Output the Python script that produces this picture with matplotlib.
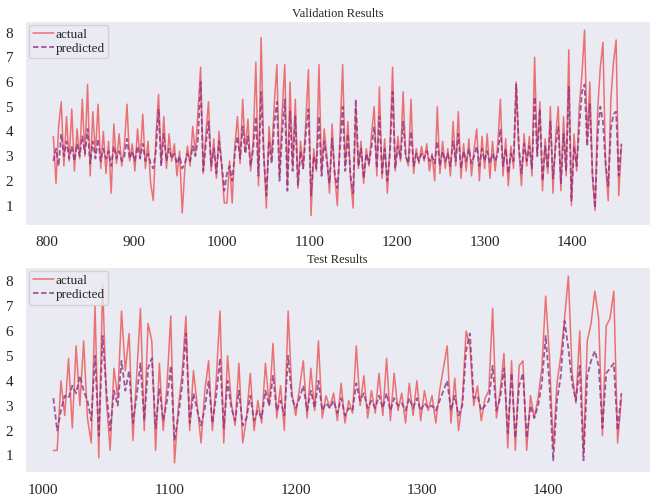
import numpy as np
import matplotlib
matplotlib.use('Agg')
import matplotlib.pyplot as plt
from matplotlib.ticker import MultipleLocator
import seaborn as sns

# validation set: index 808..1456, every 3rd step
val_idx = list(range(808, 1457, 3))
val_actual = [
    3.8, 1.9, 4.2, 5.2, 2.6, 4.6, 2.8, 4.9, 2.4, 4.1,
    2.9, 5.3, 3.0, 5.9, 2.2, 4.8, 3.1, 5.1, 2.5, 4.0,
    2.3, 3.6, 1.5, 4.3, 2.7, 3.9, 2.6, 3.4, 5.1, 2.8,
    3.5, 2.4, 4.1, 2.9, 4.7, 2.5, 3.6, 1.9, 1.2, 3.8,
    5.5, 2.7, 4.6, 2.5, 3.9, 2.8, 3.5, 2.2, 3.2, 0.7,
    2.5, 3.4, 2.6, 4.2, 3.1, 4.8, 6.6, 2.3, 3.9, 5.2,
    2.4, 3.7, 2.1, 4.0, 2.6, 1.1, 1.1, 2.8, 1.1, 3.4,
    4.6, 2.7, 5.3, 3.2, 4.5, 2.4, 3.6, 6.8, 1.8, 7.8,
    3.2, 0.9, 4.2, 2.9, 5.1, 6.7, 2.2, 4.8, 6.7, 1.8,
    6.0, 2.6, 5.3, 1.7, 3.6, 2.5, 4.4, 6.5, 0.6, 3.3,
    2.4, 6.7, 2.3, 4.1, 3.0, 1.5, 4.3, 2.2, 1.0, 3.8,
    6.7, 2.6, 4.4, 2.1, 0.9, 5.0, 2.5, 3.6, 1.9, 3.3,
    2.6, 3.9, 5.0, 2.2, 5.8, 2.1, 3.7, 1.5, 3.4, 6.6,
    2.4, 3.8, 2.8, 5.6, 3.0, 2.6, 5.3, 2.3, 3.3, 2.7,
    3.4, 2.8, 3.5, 2.4, 3.1, 2.0, 5.0, 2.3, 3.6, 2.5,
    3.3, 2.2, 4.4, 2.6, 4.8, 2.1, 3.5, 2.4, 3.7, 2.2,
    3.3, 4.1, 2.0, 3.8, 2.5, 3.9, 2.1, 3.6, 2.4, 3.5,
    5.3, 2.2, 3.7, 1.8, 3.4, 2.5, 6.0, 3.3, 1.8, 3.9,
    2.6, 3.8, 2.2, 7.0, 3.1, 5.2, 1.6, 3.7, 2.3, 5.0,
    1.5, 3.8, 5.0, 1.6, 4.6, 2.2, 7.3, 1.0, 3.9, 2.4,
    5.0, 6.3, 8.1, 3.6, 6.0, 2.2, 0.8, 4.9, 6.6, 7.6,
    2.6, 1.2, 5.3, 6.8, 7.7, 1.4, 3.4,
]
val_pred = [
    2.8, 3.3, 2.6, 3.9, 3.0, 3.6, 2.9, 3.4, 2.8, 3.5,
    3.0, 3.8, 3.1, 4.1, 2.7, 3.6, 2.9, 3.7, 2.8, 3.3,
    2.9, 3.2, 2.6, 3.4, 2.9, 3.2, 2.8, 3.0, 3.7, 2.9,
    3.2, 2.8, 3.4, 2.9, 3.5, 2.8, 3.1, 2.7, 2.5, 3.2,
    4.9, 2.6, 3.9, 2.8, 3.3, 2.9, 3.1, 2.7, 3.0, 2.5,
    2.7, 3.1, 2.8, 3.4, 3.0, 3.7, 6.0, 2.4, 3.5, 4.4,
    2.6, 3.3, 2.3, 3.6, 2.7, 1.6, 2.3, 2.6, 2.0, 3.1,
    3.8, 2.9, 4.2, 3.1, 3.8, 2.6, 3.3, 4.6, 2.2, 5.6,
    3.0, 1.4, 3.6, 2.7, 4.3, 5.2, 2.0, 3.9, 5.3, 1.6,
    4.8, 2.4, 4.6, 1.8, 3.2, 2.5, 3.9, 4.9, 1.4, 3.0,
    2.5, 4.6, 2.2, 3.6, 2.8, 1.9, 3.7, 2.3, 1.7, 3.3,
    5.0, 2.4, 3.9, 2.2, 1.5, 5.3, 2.6, 3.3, 2.1, 3.1,
    2.7, 3.4, 4.2, 2.5, 4.6, 2.3, 3.3, 2.0, 3.1, 5.6,
    2.5, 3.4, 2.9, 4.4, 3.0, 2.7, 4.0, 2.6, 3.1, 2.8,
    3.1, 2.9, 3.2, 2.8, 3.0, 2.7, 3.6, 2.6, 3.2, 2.8,
    3.1, 2.6, 3.6, 2.8, 3.9, 2.5, 3.2, 2.8, 3.3, 2.7,
    3.0, 3.4, 2.6, 3.3, 2.8, 3.2, 2.7, 3.1, 2.8, 3.1,
    4.1, 2.6, 3.3, 2.3, 3.1, 2.8, 5.9, 3.4, 2.3, 3.5,
    2.8, 3.4, 2.5, 5.4, 3.0, 4.9, 2.0, 3.4, 2.5, 4.4,
    2.1, 3.4, 4.2, 1.9, 3.9, 2.4, 5.8, 1.2, 3.4, 2.6,
    4.2, 5.6, 5.9, 3.4, 5.1, 2.3, 0.9, 3.9, 5.0, 4.4,
    2.7, 1.8, 4.1, 4.7, 4.8, 2.2, 3.5,
]

# test set: index 1008..1458, every 3rd step
test_idx = list(range(1008, 1459, 3))
test_actual = [
    1.2, 1.2, 4.0, 2.6, 4.9, 2.1, 5.4, 3.0, 5.6, 2.5,
    1.5, 7.0, 0.9, 7.9, 3.2, 1.2, 4.5, 3.3, 6.8, 4.4,
    5.9, 1.6, 4.2, 6.9, 2.0, 6.3, 5.6, 1.2, 4.7, 2.0,
    3.8, 6.6, 0.7, 2.9, 4.3, 6.6, 2.0, 4.4, 3.0, 1.5,
    3.6, 4.8, 2.0, 4.0, 6.8, 1.5, 5.0, 3.1, 2.2, 4.7,
    1.5, 2.5, 4.3, 2.0, 3.2, 2.3, 4.7, 3.0, 5.5, 2.5,
    3.8, 2.0, 6.8, 3.5, 2.6, 3.7, 4.8, 2.5, 4.5, 2.8,
    5.6, 2.5, 3.4, 2.9, 3.5, 2.4, 3.9, 2.3, 3.2, 2.7,
    5.4, 3.0, 4.2, 2.5, 3.6, 2.7, 4.3, 2.6, 4.9, 2.4,
    4.3, 2.8, 3.5, 2.3, 3.9, 2.6, 4.0, 2.4, 3.6, 2.8,
    3.4, 2.3, 3.6, 4.5, 5.4, 2.3, 4.1, 2.0, 3.2, 6.0,
    5.4, 3.0, 3.8, 2.4, 3.3, 3.6, 6.9, 2.5, 3.6, 5.1,
    1.3, 4.8, 1.2, 4.6, 4.8, 1.2, 3.4, 2.5, 3.3, 4.5,
    7.4, 5.0, 1.3, 3.9, 5.0, 6.5, 8.2, 4.3, 3.1, 6.0,
    1.1, 5.6, 6.3, 7.6, 6.5, 1.8, 6.2, 6.5, 7.6, 1.5,
    3.3,
]
test_pred = [
    3.3, 2.0, 2.8, 3.4, 3.3, 3.8, 3.5, 4.2, 3.6, 3.2,
    2.4, 5.0, 1.8, 5.8, 3.6, 2.0, 3.6, 3.0, 4.8, 3.6,
    4.4, 2.3, 3.4, 4.7, 2.4, 4.5, 4.9, 2.1, 3.7, 2.4,
    3.2, 4.6, 1.6, 2.6, 3.8, 5.9, 2.3, 3.5, 2.8, 2.2,
    2.9, 4.0, 2.3, 3.4, 4.9, 2.1, 4.0, 2.9, 2.4, 3.6,
    2.2, 2.5, 3.4, 2.4, 2.8, 2.5, 3.6, 3.0, 4.2, 2.8,
    3.2, 2.6, 5.0, 3.3, 2.9, 3.3, 3.8, 2.8, 3.6, 2.9,
    4.0, 2.8, 3.1, 2.9, 3.2, 2.7, 3.3, 2.6, 2.9, 2.8,
    3.9, 3.2, 3.5, 2.9, 3.2, 2.9, 3.4, 2.9, 3.5, 2.8,
    3.3, 3.0, 3.1, 2.8, 3.3, 2.9, 3.3, 2.8, 3.1, 2.9,
    3.0, 2.8, 3.2, 3.6, 4.0, 2.8, 3.4, 2.6, 3.0, 5.2,
    5.9, 3.3, 3.4, 2.8, 3.0, 3.2, 4.6, 2.8, 3.3, 4.5,
    1.9, 4.3, 1.7, 3.8, 4.3, 1.7, 3.0, 2.5, 3.0, 3.9,
    5.8, 3.9, 0.8, 3.2, 4.2, 6.4, 5.3, 3.9, 3.2, 4.6,
    0.8, 4.2, 4.8, 5.2, 4.6, 2.1, 4.3, 4.5, 4.7, 2.0,
    3.5,
]

sns.set_style('dark')
plt.rcParams['font.family'] = ['Liberation Serif', 'DejaVu Serif']

c_act = '#ec6a6c'
c_pred = '#8c3282'

fig = plt.figure(figsize=(6.57, 4.96), dpi=100)
ax1 = fig.add_axes([0.038, 0.547, 0.951, 0.411])
ax2 = fig.add_axes([0.038, 0.048, 0.951, 0.414])

for ax, x, a, p, title in [(ax1, val_idx, val_actual, val_pred, 'Validation Results'),
                           (ax2, test_idx, test_actual, test_pred, 'Test Results')]:
    ax.plot(x, a, color=c_act, lw=1.1, alpha=0.95, label='actual')
    ax.plot(x, p, color=c_pred, lw=1.3, ls=(0, (3, 1.5)), alpha=0.8, label='predicted')
    ax.set_title(title, fontsize=9, pad=3)
    ax.set_yticks(range(1, 9))
    ax.xaxis.set_major_locator(MultipleLocator(100))
    ax.tick_params(labelsize=11, pad=5)
    ax.legend(loc='upper left', fontsize=9.5, handlelength=1.6, handletextpad=0.1,
              borderpad=0.3, labelspacing=0.1, borderaxespad=0.3)

fig.savefig('out.png', dpi=100)
